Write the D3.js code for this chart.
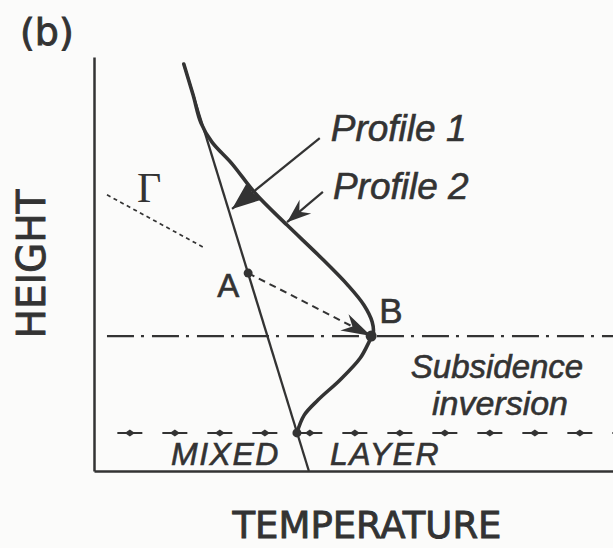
<!DOCTYPE html>
<html>
<head>
<meta charset="utf-8">
<script src="https://cdn.jsdelivr.net/npm/d3@7"></script>
<style>
  body { margin: 0; background: #fbfbfa; }
  svg { display: block; }
</style>
</head>
<body>
<svg width="613" height="548"></svg>
<script>
// temperature / height in arbitrary units (0-100)
var profile1 = [[17.3, 98.3], [41.4, 0]];
var profile2 = [
  [17.3, 98.3], [19.1, 90.8], [20.6, 84.1], [22.7, 79.5], [26.6, 74.2],
  [31.2, 66.9], [37.2, 59.4], [43.6, 51.7], [48.9, 44.9], [52.0, 40.1],
  [53.6, 36.0], [53.8, 33.3], [53.0, 31.2], [51.3, 27.3], [47.4, 22.0],
  [43.2, 17.2], [40.5, 13.5], [39.1, 9.2]
];
var gammaLine = [[2.5, 66.7], [21.0, 54.1]];
var pointA = [29.7, 47.8];
var pointB = [53.4, 32.6];
var mixedJoin = [39.1, 9.2];
var inversionHeight = 32.6;
var mixedHeight = 9.2;
var leader1 = [[43.5, 80.4], [26.6, 63.3]];
var leader2 = [[44.1, 67.4], [37.2, 60.1]];

var svg = d3.select("svg"),
    width = +svg.attr("width"),
    height = +svg.attr("height");

var ink = "#333";

var x = d3.scaleLinear().domain([0, 100]).range([94, 613]);
var y = d3.scaleLinear().domain([0, 100]).range([471, 57]);

var line = d3.line().x(d => x(d[0])).y(d => y(d[1]));
var smooth = d3.line().x(d => x(d[0])).y(d => y(d[1])).curve(d3.curveCatmullRom.alpha(0.5));

// arrow head path, tip at `tip`, pointing away from `from`
function head(from, tip, len, hw, notch) {
  var p0 = [x(from[0]), y(from[1])], p1 = [x(tip[0]), y(tip[1])];
  var dx = p1[0] - p0[0], dy = p1[1] - p0[1], L = Math.hypot(dx, dy);
  var ux = dx / L, uy = dy / L, nx = -uy, ny = ux;
  var bx = p1[0] - ux * len, by = p1[1] - uy * len;
  return "M" + p1 +
    "L" + [bx + nx * hw, by + ny * hw] +
    "L" + [p1[0] - ux * (len - notch), p1[1] - uy * (len - notch)] +
    "L" + [bx - nx * hw, by - ny * hw] + "Z";
}

// axes (frame only, no ticks)
svg.append("g")
    .attr("transform", "translate(" + x(0) + ",0)")
    .call(d3.axisLeft(y).tickValues([]).tickSizeOuter(0))
  .select(".domain").attr("stroke", ink).attr("stroke-width", 2.5);
svg.append("g")
    .attr("transform", "translate(0," + y(0) + ")")
    .call(d3.axisBottom(x).tickValues([]).tickSizeOuter(0))
  .select(".domain").attr("stroke", ink).attr("stroke-width", 2.5);

// subsidence inversion (dash-dot)
svg.append("line")
    .attr("x1", x(2.5)).attr("x2", x(100))
    .attr("y1", y(inversionHeight)).attr("y2", y(inversionHeight))
    .attr("stroke", ink).attr("stroke-width", 2.2)
    .attr("stroke-dasharray", "27,7,3,8");

// top of mixed layer (dash with dots)
var mx0 = x(4.5), mDash = 25, mGap = 20;
svg.append("line")
    .attr("x1", mx0).attr("x2", x(100))
    .attr("y1", y(mixedHeight)).attr("y2", y(mixedHeight))
    .attr("stroke", ink).attr("stroke-width", 2)
    .attr("stroke-dasharray", mDash + "," + mGap);
svg.append("g").selectAll("path")
    .data(d3.range(mx0 + mDash / 2, width, mDash + mGap))
  .enter().append("path")
    .attr("d", d => "M" + (d - 5) + "," + y(mixedHeight) + "L" + d + "," + (y(mixedHeight) - 3.5) +
                    "L" + (d + 5) + "," + y(mixedHeight) + "L" + d + "," + (y(mixedHeight) + 3.5) + "Z")
    .attr("fill", ink);

// gamma (adiabat) line
svg.append("path")
    .attr("d", line(gammaLine))
    .attr("fill", "none").attr("stroke", ink)
    .attr("stroke-width", 1.7).attr("stroke-dasharray", "4,3.5");

// profiles
svg.append("path")
    .attr("d", line(profile1))
    .attr("fill", "none").attr("stroke", ink).attr("stroke-width", 2.3);
svg.append("path")
    .attr("d", smooth(profile2))
    .attr("fill", "none").attr("stroke", ink).attr("stroke-width", 3.6)
    .attr("stroke-linecap", "round");

// A -> B dashed arrow
svg.append("path")
    .attr("d", line([pointA, pointB]))
    .attr("fill", "none").attr("stroke", ink)
    .attr("stroke-width", 2).attr("stroke-dasharray", "7,5");
svg.append("path")
    .attr("d", head(pointA, pointB, 30, 9, 9))
    .attr("fill", ink);

// label leaders
svg.append("path")
    .attr("d", line(leader1))
    .attr("fill", "none").attr("stroke", ink).attr("stroke-width", 2.2);
svg.append("path")
    .attr("d", head(leader1[0], leader1[1], 28, 11, 2))
    .attr("fill", ink);
svg.append("path")
    .attr("d", line(leader2))
    .attr("fill", "none").attr("stroke", ink).attr("stroke-width", 2.2);
svg.append("path")
    .attr("d", head(leader2[0], leader2[1], 24, 9, 8))
    .attr("fill", ink);

// points
svg.append("g").selectAll("circle")
    .data([[pointA, 4.5], [pointB, 5.5], [mixedJoin, 4.5]])
  .enter().append("circle")
    .attr("cx", d => x(d[0][0])).attr("cy", d => y(d[0][1])).attr("r", d => d[1])
    .attr("fill", ink);

// text
var sans = "'DejaVu Sans', sans-serif";
var helv = "'Liberation Sans', Arial, sans-serif";

svg.append("text").attr("x", 20).attr("y", 45)
    .attr("font-family", sans).attr("font-size", 38).attr("fill", ink)
    .attr("stroke", ink).attr("stroke-width", 0.9)
    .text("(b)");

svg.append("text")
    .attr("transform", "translate(45," + y(50) + ") rotate(-90)")
    .attr("text-anchor", "middle")
    .attr("font-family", sans).attr("font-size", 39).attr("fill", ink)
    .attr("stroke", ink).attr("stroke-width", 0.9)
    .text("HEIGHT");

svg.append("text").attr("x", 367).attr("y", 538)
    .attr("text-anchor", "middle")
    .attr("font-family", sans).attr("font-size", 37).attr("fill", ink)
    .attr("stroke", ink).attr("stroke-width", 0.9)
    .text("TEMPERATURE");

svg.append("text").attr("x", 137).attr("y", 202)
    .attr("font-family", "'Liberation Serif', serif").attr("font-size", 42).attr("fill", ink)
    .text("Γ");

svg.append("text").attr("x", x(pointA[0]) - 31).attr("y", y(pointA[1]) + 24)
    .attr("font-family", helv).attr("font-size", 33).attr("fill", ink)
    .attr("stroke", ink).attr("stroke-width", 0.6)
    .text("A");
svg.append("text").attr("x", x(pointB[0]) + 8).attr("y", y(pointB[1]) - 13)
    .attr("font-family", helv).attr("font-size", 35).attr("fill", ink)
    .attr("stroke", ink).attr("stroke-width", 0.6)
    .text("B");

var italic = [
  ["Profile 1", x(leader1[0][0]) + 11, 141, 37, "start"],
  ["Profile 2", x(leader2[0][0]) + 10, 199, 37, "start"],
  ["Subsidence", 497, 378, 33, "middle"],
  ["inversion", 500, 415, 34, "middle"]
];
svg.append("g").selectAll("text")
    .data(italic)
  .enter().append("text")
    .attr("x", d => d[1]).attr("y", d => d[2])
    .attr("text-anchor", d => d[4])
    .attr("font-family", helv).attr("font-style", "italic")
    .attr("font-size", d => d[3]).attr("fill", ink)
    .attr("stroke", ink).attr("stroke-width", 0.6)
    .text(d => d[0]);

svg.append("g").selectAll("text")
    .data([["MIXED", 171], ["LAYER", 330]])
  .enter().append("text")
    .attr("x", d => d[1]).attr("y", 465)
    .attr("font-family", helv).attr("font-style", "italic")
    .attr("font-size", 32).attr("letter-spacing", 1.5).attr("fill", ink)
    .attr("stroke", ink).attr("stroke-width", 0.6)
    .text(d => d[0]);
</script>
</body>
</html>
